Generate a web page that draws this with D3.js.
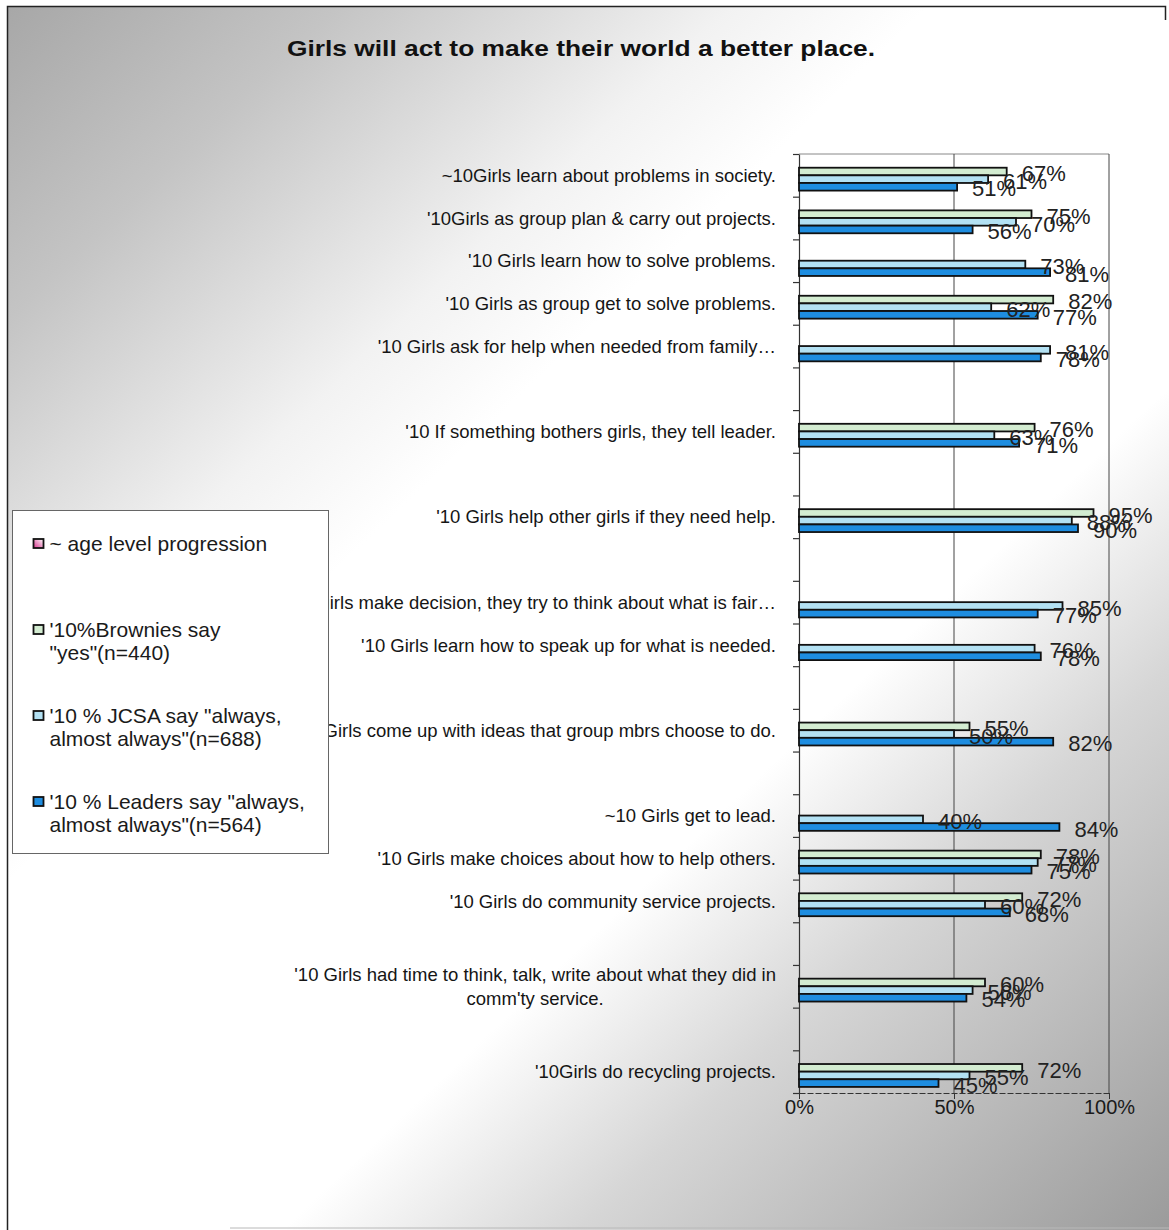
<!DOCTYPE html>
<html>
<head>
<meta charset="utf-8">
<script src="https://cdn.jsdelivr.net/npm/d3@7/dist/d3.min.js"></script>
<style>
  body { margin: 0; background: #fff; }
  svg text { font-family: "Liberation Sans", Arial, sans-serif; }
</style>
</head>
<body>
<svg id="chart"></svg>
<script>
// chart data
const title = "Girls will act to make their world a better place.";

const categories = [
  "~10Girls learn about problems in society.",
  "'10Girls as group plan & carry out projects.",
  "'10 Girls learn how to solve problems.",
  "'10 Girls as group get to solve problems.",
  "'10 Girls ask for help when needed from family…",
  "",
  "'10 If something bothers girls, they tell leader.",
  "",
  "'10 Girls help other girls if they need help.",
  "",
  "'10 When girls make decision, they try to think about what is fair…",
  "'10 Girls learn how to speak up for what is needed.",
  "",
  "'10 Girls come up with ideas that group mbrs choose to do.",
  "",
  "~10 Girls get to lead.",
  "'10 Girls make choices about how to help others.",
  "'10 Girls do community service projects.",
  "",
  "'10 Girls had time to think, talk, write about what they did in\ncomm'ty service.",
  "",
  "'10Girls do recycling projects."
];

const seriesNames = [
  "~ age level progression",
  "'10%Brownies say\n\"yes\"(n=440)",
  "'10 % JCSA say \"always,\nalmost always\"(n=688)",
  "'10 % Leaders say \"always,\nalmost always\"(n=564)"
];

const ageLevel = [null, null, null, null, null, null, null, null, null, null, null,
                  null, null, null, null, null, null, null, null, null, null, null];
const brownies = [67, 75, null, 82, null, null, 76, null, 95, null, null,
                  null, null, 55, null, null, 78, 72, null, 60, null, 72];
const jcsa     = [61, 70, 73, 62, 81, null, 63, null, 88, null, 85,
                  76, null, 50, null, 40, 77, 60, null, 56, null, 55];
const leaders  = [51, 56, 81, 77, 78, null, 71, null, 90, null, 77,
                  78, null, 82, null, 84, 75, 68, null, 54, null, 45];

const xTicks = [0, 50, 100];

// layout
const width = 1169, height = 1230;
const plot = { left: 799, right: 1109, top: 154, bottom: 1093 };
const colors = ["#f3c6de", "#d3ecd1", "#b3e1f3", "#1e8de0"];

const svg = d3.select("#chart")
    .attr("width", width)
    .attr("height", height);

// scanned page background (diagonal grey-white-grey shading)
const defs = svg.append("defs");
const bg = defs.append("linearGradient")
    .attr("id", "bg-grad")
    .attr("gradientUnits", "userSpaceOnUse")
    .attr("x1", 0).attr("y1", 0)
    .attr("x2", width).attr("y2", height);
[[0, "#a6a6a6"], [0.14, "#c4c4c4"], [0.3, "#f2f2f2"], [0.38, "#ffffff"],
 [0.64, "#ffffff"], [0.76, "#d6d6d6"], [1, "#9b9b9b"]]
  .forEach(s => bg.append("stop").attr("offset", s[0]).attr("stop-color", s[1]));

const ageGrad = defs.append("linearGradient")
    .attr("id", "age-grad")
    .attr("x1", 1).attr("y1", 0).attr("x2", 0).attr("y2", 1);
ageGrad.append("stop").attr("offset", 0).attr("stop-color", "#ffffff");
ageGrad.append("stop").attr("offset", 1).attr("stop-color", "#d8328c");

svg.append("rect")
    .attr("x", 8).attr("y", 7)
    .attr("width", width - 8).attr("height", height - 7)
    .attr("fill", "url(#bg-grad)");

// page frame
svg.append("path")
    .attr("d", `M7.5,${height} V6.5 H1165.5 V20`)
    .attr("fill", "none")
    .attr("stroke", "#222")
    .attr("stroke-width", 1.5);
svg.append("line")
    .attr("x1", 230).attr("x2", width)
    .attr("y1", 1228).attr("y2", 1228)
    .attr("stroke", "#b8b8b8");

// title
svg.append("text")
    .attr("x", 581)
    .attr("y", 56)
    .attr("text-anchor", "middle")
    .attr("textLength", 588)
    .attr("lengthAdjust", "spacingAndGlyphs")
    .style("font-size", "22px")
    .style("font-weight", "bold")
    .attr("fill", "#111")
    .text(title);

// scales
const x = d3.scaleLinear()
    .domain([0, 100])
    .range([plot.left, plot.right]);

const y = d3.scaleBand()
    .domain(d3.range(categories.length))
    .range([plot.top, plot.bottom])
    .paddingInner(0.285)
    .paddingOuter(0.1425);

const ySub = d3.scaleBand()
    .domain(d3.range(seriesNames.length))
    .range([0, y.bandwidth()]);

const yEdge = d3.scaleLinear()
    .domain([0, categories.length])
    .range([plot.top, plot.bottom]);

// plot frame & gridlines
svg.append("line")
    .attr("x1", plot.left).attr("x2", plot.right)
    .attr("y1", plot.top).attr("y2", plot.top)
    .attr("stroke", "#888");

svg.append("g")
    .selectAll("line")
    .data(xTicks.filter(d => d > 0))
    .enter().append("line")
    .attr("x1", d => x(d)).attr("x2", d => x(d))
    .attr("y1", plot.top).attr("y2", plot.bottom)
    .attr("stroke", "#444")
    .attr("stroke-width", 1);

// left axis: ticks on category boundaries
svg.append("g")
    .attr("transform", `translate(${plot.left},0)`)
    .call(d3.axisLeft(yEdge)
        .tickValues(d3.range(categories.length + 1))
        .tickFormat("")
        .tickSize(6)
        .tickSizeOuter(0))
    .call(g => g.selectAll("line, path").attr("stroke", "#333").attr("stroke-width", 1.2));

// bottom axis
svg.append("g")
    .attr("transform", `translate(0,${plot.bottom})`)
    .call(d3.axisBottom(x)
        .tickValues(xTicks)
        .tickFormat(d => d + "%")
        .tickSize(6)
        .tickSizeOuter(0)
        .tickPadding(1))
    .call(g => g.select(".domain").attr("stroke", "#333").attr("stroke-dasharray", "6,2"))
    .call(g => g.selectAll(".tick line").attr("stroke", "#333"))
    .call(g => g.selectAll("text")
        .style("font-size", "20px")
        .attr("fill", "#1a1a1a"));

// category labels
const catLabels = svg.append("g")
    .selectAll("text")
    .data(categories.map((c, i) => ({ label: c, i: i })).filter(d => d.label !== ""))
    .enter().append("text")
    .style("font-size", "18.5px")
    .attr("fill", "#151515")
    .each(function(d) {
        const lines = d.label.split("\n");
        const t = d3.select(this);
        const cy = y(d.i) + y.bandwidth() / 2;
        const lh = 24;
        lines.forEach((ln, k) => {
            t.append("tspan")
                .attr("y", cy + (k - (lines.length - 1) / 2) * lh)
                .attr("dy", "0.36em")
                .text(ln);
        });
        if (lines.length === 1) {
            t.attr("text-anchor", "end").selectAll("tspan").attr("x", 776);
        } else {
            const w = d3.max(t.selectAll("tspan").nodes(), n => n.getComputedTextLength());
            t.attr("text-anchor", "middle").selectAll("tspan").attr("x", 776 - w / 2);
        }
    });

// bars
const allSeries = [ageLevel, brownies, jcsa, leaders];
const barData = [];
allSeries.forEach((vals, s) => {
    vals.forEach((v, i) => {
        if (v !== null) barData.push({ s: s, i: i, v: v });
    });
});

svg.append("g")
    .selectAll("rect")
    .data(barData)
    .enter().append("rect")
    .attr("x", x(0))
    .attr("y", d => y(d.i) + ySub(d.s))
    .attr("width", d => x(d.v) - x(0))
    .attr("height", ySub.bandwidth())
    .attr("fill", d => colors[d.s])
    .attr("stroke", "#111")
    .attr("stroke-width", 1.8);

// value labels
svg.append("g")
    .selectAll("text")
    .data(barData)
    .enter().append("text")
    .attr("x", d => x(d.v) + 15)
    .attr("y", d => y(d.i) + ySub(d.s) + ySub.bandwidth() / 2 + 2)
    .attr("dy", "0.35em")
    .style("font-size", "22px")
    .attr("fill", "#222")
    .text(d => d.v + "%");

// legend
const legend = svg.append("g").attr("transform", "translate(12.5,510.5)");
legend.append("rect")
    .attr("width", 316)
    .attr("height", 343)
    .attr("fill", "#fff")
    .attr("stroke", "#666")
    .attr("stroke-width", 1);

legend.selectAll(".legend.item")
    .data(seriesNames)
    .enter().append("g")
    .attr("class", "legend item")
    .attr("transform", (d, i) => `translate(0, ${33 + i * 86})`)
    .each(function(d, i) {
        const g = d3.select(this);
        g.append("rect")
            .attr("x", 21).attr("y", -4.5)
            .attr("width", 10).attr("height", 9)
            .attr("fill", i === 0 ? "url(#age-grad)" : colors[i])
            .attr("stroke", "#111")
            .attr("stroke-width", 1.8);
        g.append("text")
            .attr("x", 37)
            .style("font-size", "21px")
            .attr("fill", "#1a1a1a")
            .selectAll("tspan")
            .data(d.split("\n"))
            .enter().append("tspan")
            .attr("x", 37)
            .attr("y", (l, k) => k * 23)
            .attr("dy", "0.36em")
            .text(l => l);
    });
</script>
</body>
</html>
